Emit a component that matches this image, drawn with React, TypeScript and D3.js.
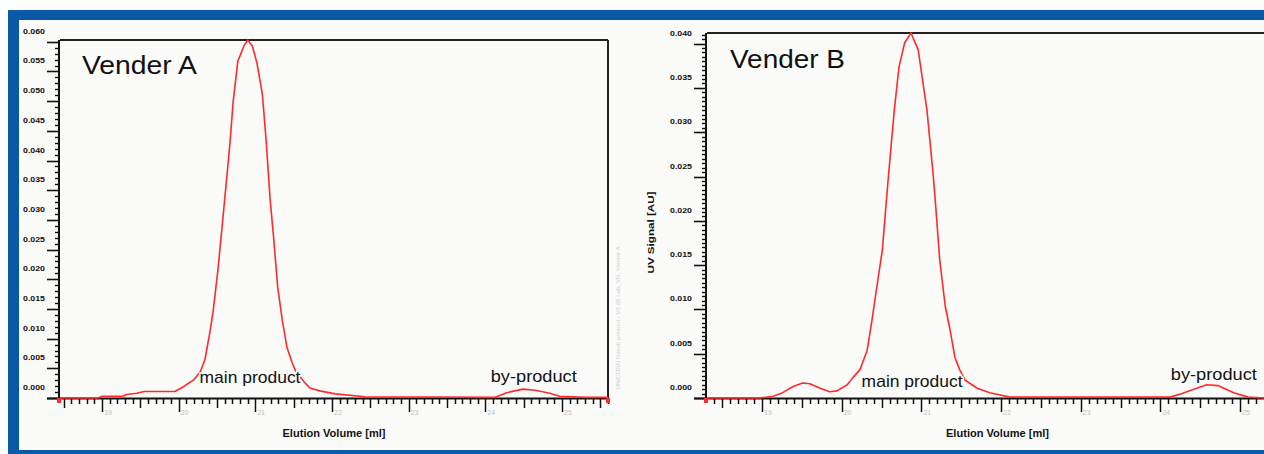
import React from "react";
import * as d3 from "d3";

// Vender A trace: elution volume [ml] vs UV signal [AU]
const volA = [18.45, 18.95, 19.0, 19.27, 19.32, 19.45, 19.55, 19.95, 20.06, 20.19, 20.28, 20.34, 20.41, 20.45, 20.51, 20.56, 20.63, 20.67, 20.71, 20.77, 20.85, 20.9, 20.96, 21.02, 21.09, 21.14, 21.19, 21.24, 21.29, 21.35, 21.41, 21.48, 21.53, 21.65, 21.71, 21.84, 22.04, 22.43, 24.12, 24.28, 24.49, 24.65, 24.84, 24.97, 25.3, 25.6];
const signalA = [0, 0, 0.0003, 0.0003, 0.0006, 0.0008, 0.0011, 0.0011, 0.0019, 0.003, 0.0044, 0.0064, 0.0114, 0.0148, 0.0215, 0.0282, 0.0377, 0.0433, 0.05, 0.0567, 0.0593, 0.0603, 0.0593, 0.0564, 0.0512, 0.0433, 0.0337, 0.0266, 0.0187, 0.0131, 0.0086, 0.0059, 0.0044, 0.0025, 0.0017, 0.0012, 0.0007, 0.0002, 0.0001, 0.0009, 0.0015, 0.0013, 0.0008, 0.0003, 0.0001, 0.0001];

// Vender B trace
const volB = [18.31, 18.72, 18.97, 19.14, 19.26, 19.39, 19.51, 19.6, 19.73, 19.85, 19.94, 20.07, 20.14, 20.23, 20.32, 20.38, 20.44, 20.51, 20.54, 20.59, 20.66, 20.72, 20.79, 20.87, 20.96, 21.01, 21.07, 21.15, 21.18, 21.23, 21.3, 21.36, 21.42, 21.48, 21.55, 21.7, 21.86, 22.11, 24.12, 24.27, 24.42, 24.58, 24.72, 24.92, 25.1, 25.3, 25.6];
const signalB = [0, 0, 0, 0.0002, 0.0006, 0.0013, 0.0017, 0.0016, 0.0011, 0.0007, 0.0008, 0.0015, 0.0023, 0.0032, 0.0054, 0.0088, 0.0125, 0.0167, 0.02, 0.0254, 0.0325, 0.0374, 0.0401, 0.0412, 0.0393, 0.0362, 0.0325, 0.025, 0.0216, 0.0156, 0.0103, 0.0077, 0.0046, 0.0032, 0.002, 0.0011, 0.0006, 0.0001, 0.0001, 0.0005, 0.001, 0.0015, 0.0014, 0.0006, 0.0001, 0, 0];

const xTickValues = [19, 20, 21, 22, 23, 24, 25];
const yTicksA = [0, 0.005, 0.01, 0.015, 0.02, 0.025, 0.03, 0.035, 0.04, 0.045, 0.05, 0.055, 0.06];
const yTicksB = [0, 0.005, 0.01, 0.015, 0.02, 0.025, 0.03, 0.035, 0.04];

const BLUE = "#0a59a7";
const BG = "#fbfbf9";
const RED = "#ff2b2b";
const FONT = "'Liberation Sans', Arial, sans-serif";
const fmt = d3.format(".3f");

type PanelProps = {
  vol: number[];
  signal: number[];
  yTicks: number[];
  xDomain: [number, number];
  yMax: number;
  left: number;
  right: number;
  top: number;
  bottom: number;
  minorStep: number;
  title: string;
  titleAt: [number, number];
  mainAt: [number, number];
  byAt: [number, number];
  yTitle?: boolean;
  footer?: boolean;
};

const Panel = (p: PanelProps) => {
  const x = d3.scaleLinear().domain(p.xDomain).range([p.left, p.right]);
  const y = d3.scaleLinear().domain([0, p.yMax]).range([p.bottom, p.top]);
  const line = d3
    .line<number>()
    .x((_, i) => x(p.vol[i]))
    .y((d) => y(d))
    .curve(d3.curveLinear);

  // 0.1 ml minor ticks, 0.5 ml medium, integers major
  const xMinor = d3.range(Math.ceil(p.xDomain[0] * 10), Math.floor(p.xDomain[1] * 10) + 1);
  const perMajor = Math.round(0.005 / p.minorStep);
  const yMinor = d3.range(0, Math.floor(p.yMax / p.minorStep + 1e-6) + 1);
  const plotRight = Math.min(p.right, 1264);
  const midX = (p.left + p.right) / 2;

  return (
    <g>
      {/* frame */}
      <line x1={p.left} x2={plotRight} y1={p.top} y2={p.top} stroke="#222" strokeWidth={2} />
      {p.right <= 1264 && (
        <line x1={p.right} x2={p.right} y1={p.top} y2={p.bottom} stroke="#222" strokeWidth={2} />
      )}
      <line x1={p.left - 1} x2={p.left - 1} y1={p.top} y2={p.bottom + 1} stroke="#111" strokeWidth={2} />
      <line x1={p.left - 13} x2={plotRight} y1={p.bottom + 0.5} y2={p.bottom + 0.5} stroke="#111" strokeWidth={2} />

      {/* y ticks */}
      {yMinor.map((k) => {
        const yy = Math.round(y(k * p.minorStep)) + 0.5;
        const major = k % perMajor === 0;
        return (
          <line key={"ym" + k} x1={p.left - (major ? 13 : 5)} x2={p.left} y1={yy} y2={yy} stroke="#111" strokeWidth={major ? 1.6 : 1.4} />
        );
      })}
      {p.yTicks.map((v) => (
        <text
          key={"yl" + v}
          x={p.left - 15}
          y={y(v) - 10.5}
          textAnchor="end"
          dominantBaseline="central"
          fontFamily={FONT}
          fontWeight="bold"
          fontSize={7.5}
          textLength={22}
          lengthAdjust="spacingAndGlyphs"
          fill="#111"
        >
          {fmt(v)}
        </text>
      ))}

      {/* x ticks */}
      {xMinor.map((k) => {
        const xx = Math.round(x(k / 10)) + 0.5;
        const len = k % 10 === 0 ? 14 : k % 5 === 0 ? 10 : 6;
        if (xx > 1264) return null;
        return <line key={"xm" + k} x1={xx} x2={xx} y1={p.bottom} y2={p.bottom + len} stroke="#111" strokeWidth={1.5} />;
      })}
      {xTickValues.map((v) => (
        <text key={"xl" + v} x={x(v) + 2} y={p.bottom + 17} fontFamily={FONT} fontSize={7} fill="#bdbdbd">
          {v}
        </text>
      ))}
      <text
        x={midX}
        y={p.bottom + 39}
        textAnchor="middle"
        fontFamily={FONT}
        fontWeight="bold"
        fontSize={10}
        textLength={103}
        lengthAdjust="spacingAndGlyphs"
        fill="#111"
      >
        Elution Volume [ml]
      </text>
      {p.yTitle && (
        <text
          transform={`translate(${p.left - 56},${(p.top + p.bottom) / 2 + 17}) rotate(-90)`}
          textAnchor="middle"
          dominantBaseline="central"
          fontFamily={FONT}
          fontWeight="bold"
          fontSize={8.5}
          textLength={82}
          lengthAdjust="spacingAndGlyphs"
          fill="#111"
        >
          UV Signal [AU]
        </text>
      )}
      {p.footer && (
        <text
          transform={`translate(${p.right + 10},318) rotate(-90)`}
          textAnchor="middle"
          dominantBaseline="central"
          fontFamily={FONT}
          fontSize={5.5}
          textLength={143}
          lengthAdjust="spacingAndGlyphs"
          fill="#cfcfcf"
        >
          UNICORN Result printout · V2.65 Lab_VR, Vender A
        </text>
      )}

      {/* trace */}
      <path d={line(p.signal) || ""} fill="none" stroke={RED} strokeWidth={1.6} strokeLinejoin="round" />
      <rect x={x(p.vol[0]) - 3} y={p.bottom} width={4} height={5} fill={RED} />
      {p.right <= 1264 && <rect x={x(p.vol[p.vol.length - 1]) - 2} y={p.bottom} width={4} height={5} fill={RED} />}

      {/* annotations */}
      <text x={p.titleAt[0]} y={p.titleAt[1]} fontFamily={FONT} fontSize={25} textLength={115} lengthAdjust="spacingAndGlyphs" fill="#111">
        {p.title}
      </text>
      <text x={x(p.mainAt[0])} y={p.mainAt[1]} fontFamily={FONT} fontSize={17} textLength={101} lengthAdjust="spacingAndGlyphs" fill="#111" stroke={BG} strokeWidth={3} paintOrder="stroke">
        main product
      </text>
      <text x={x(p.byAt[0])} y={p.byAt[1]} fontFamily={FONT} fontSize={17} textLength={86} lengthAdjust="spacingAndGlyphs" fill="#111" stroke={BG} strokeWidth={3} paintOrder="stroke">
        by-product
      </text>
    </g>
  );
};

export default function App() {
  return (
    <svg width={1264} height={454} style={{ position: "absolute", left: 0, top: 0, background: "#fff" }}>
      <rect x={8} y={10} width={1256} height={444} fill={BLUE} />
      <rect x={19} y={20} width={1245} height={430} fill={BG} />
      <Panel
        vol={volA}
        signal={signalA}
        yTicks={yTicksA}
        xDomain={[18.45, 25.6]}
        yMax={0.0603}
        left={60}
        right={608}
        top={40}
        bottom={398}
        minorStep={0.001}
        title="Vender A"
        titleAt={[82, 74]}
        mainAt={[20.27, 383]}
        byAt={[24.07, 382]}
        footer
      />
      <Panel
        vol={volB}
        signal={signalB}
        yTicks={yTicksB}
        xDomain={[18.31, 25.6]}
        yMax={0.0412}
        left={707}
        right={1288}
        top={33}
        bottom={398}
        minorStep={0.0005}
        title="Vender B"
        titleAt={[730, 68]}
        mainAt={[20.25, 387]}
        byAt={[24.13, 380]}
        yTitle
      />
    </svg>
  );
}
